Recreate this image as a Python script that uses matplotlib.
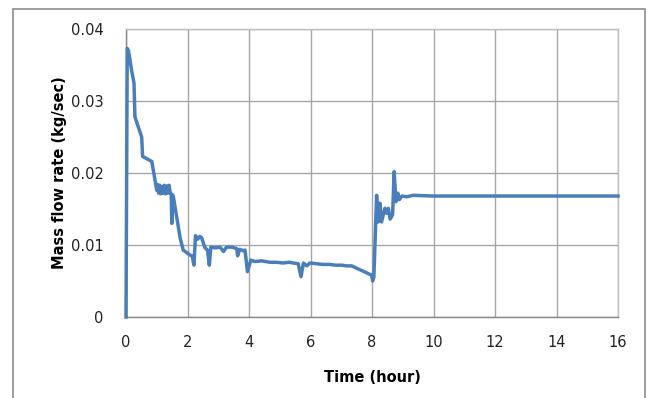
import matplotlib
matplotlib.use("Agg")
import matplotlib.pyplot as plt
from matplotlib.patches import Rectangle

# Time (hour) and mass flow rate (kg/sec)
time_h = [0.0, 0.04, 0.08, 0.18, 0.26, 0.29, 0.51, 0.54, 0.84, 1.0,
          1.03, 1.06, 1.10, 1.13, 1.17, 1.20, 1.24, 1.28, 1.32, 1.36, 1.40, 1.44, 1.47, 1.49, 1.51, 1.54,
          1.76, 1.86, 2.08, 2.15, 2.21, 2.26, 2.33, 2.40, 2.46, 2.57, 2.65, 2.71, 2.76, 2.90, 3.06, 3.17, 3.27,
          3.45, 3.60, 3.63, 3.70, 3.82, 3.87, 3.95, 4.06,
          4.2, 4.4, 4.68, 4.9, 5.1, 5.3, 5.44, 5.6, 5.69, 5.77, 5.88, 5.98,
          6.2, 6.4, 6.63, 6.8, 7.0, 7.18, 7.34, 7.99, 8.02, 8.06,
          8.15, 8.20, 8.26, 8.31, 8.42, 8.48, 8.53, 8.59, 8.67, 8.72, 8.78, 8.84, 8.89, 8.97,
          9.13, 9.34, 10.0, 12.0, 14.0, 16.0]
flow = [0.0, 0.0373, 0.0370, 0.0343, 0.0325, 0.0278, 0.0250, 0.0223, 0.0216, 0.0176,
        0.0184, 0.0172, 0.0183, 0.0171, 0.0180, 0.0172, 0.0183, 0.0171, 0.0182, 0.0172, 0.0183, 0.0172, 0.0171, 0.0130, 0.0170, 0.0167,
        0.0110, 0.0093, 0.0086, 0.0085, 0.0072, 0.0113, 0.0108, 0.0112, 0.0110, 0.0096, 0.0093, 0.0072, 0.0097, 0.0096, 0.0097, 0.0091, 0.0097,
        0.0097, 0.0095, 0.0085, 0.0094, 0.0092, 0.0093, 0.0063, 0.0079,
        0.0077, 0.0078, 0.0076, 0.0076, 0.0075, 0.0076, 0.0075, 0.0074, 0.0056, 0.0075, 0.0071, 0.0075,
        0.0074, 0.0073, 0.0073, 0.0072, 0.0072, 0.0071, 0.0071, 0.0058, 0.0050, 0.0055,
        0.0169, 0.0132, 0.0158, 0.0132, 0.0151, 0.0144, 0.0151, 0.0136, 0.0142, 0.0202, 0.0160, 0.0172, 0.0163, 0.0168,
        0.0167, 0.0169, 0.0168, 0.0168, 0.0168, 0.0168]

x_ticks = [0, 2, 4, 6, 8, 10, 12, 14, 16]
y_ticks = [0, 0.01, 0.02, 0.03, 0.04]
y_tick_labels = ["0", "0.01", "0.02", "0.03", "0.04"]

fig = plt.figure(figsize=(6.49, 3.98), dpi=100)
fig.patch.set_facecolor("white")
ax = fig.add_axes([126 / 649, 1 - 317 / 398, (618 - 126) / 649, (317 - 29) / 398])

ax.plot(time_h, flow, color="#4A7EBB", linewidth=2.5, solid_joinstyle="round", zorder=3, clip_on=False)

ax.set_xlim(0, 16)
ax.set_ylim(0, 0.04)
ax.set_xticks(x_ticks)
ax.set_yticks(y_ticks)
ax.set_yticklabels(y_tick_labels)
ax.grid(True, color="#A6A6A6", linewidth=1.0)
ax.set_axisbelow(True)
for s in ax.spines.values():
    s.set_color("#BFBFBF")
    s.set_linewidth(1.0)
ax.spines["left"].set_color("#868686")
ax.spines["bottom"].set_color("#868686")
ax.tick_params(length=0, labelsize=10.5, colors="#222222")
ax.tick_params(axis="x", pad=13)
ax.tick_params(axis="y", pad=16)

ax.set_xlabel("Time (hour)", fontsize=10.5, fontweight="bold", labelpad=14)
ax.set_ylabel("Mass flow rate (kg/sec)", fontsize=10.5, fontweight="bold", labelpad=3)

border = Rectangle((12.5 / 649, -0.05), (645 - 12.5) / 649, 1.05 - 9 / 398,
                   transform=fig.transFigure, fill=False, edgecolor="#8C8C8C",
                   linewidth=1.2, clip_on=False)
fig.patches.append(border)

fig.savefig("out.png", dpi=100)
